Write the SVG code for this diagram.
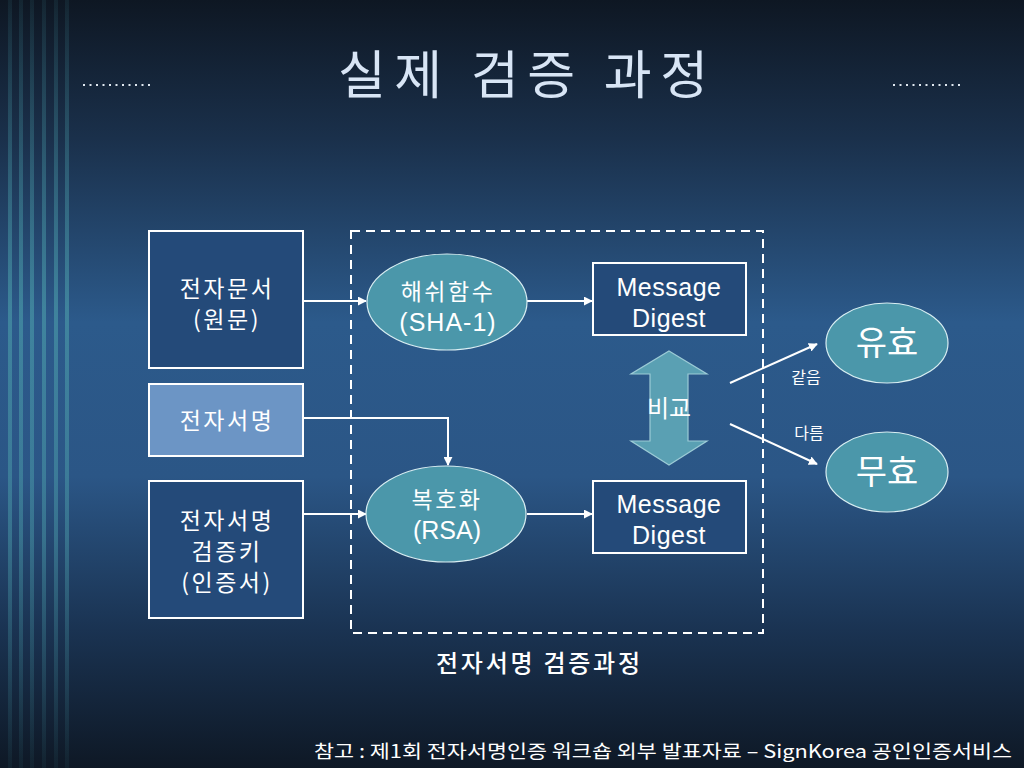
<svg xmlns="http://www.w3.org/2000/svg" width="1024" height="768" viewBox="0 0 1024 768">
<defs>
<linearGradient id="bg" x1="0" y1="0" x2="0" y2="1">
<stop offset="0" stop-color="#0e1723"/>
<stop offset="0.18" stop-color="#1a304b"/>
<stop offset="0.42" stop-color="#2c5a8b"/>
<stop offset="0.62" stop-color="#2b5686"/>
<stop offset="0.82" stop-color="#1a3352"/>
<stop offset="1" stop-color="#0e1825"/>
</linearGradient>
<linearGradient id="stripe" x1="0" y1="0" x2="0" y2="1">
<stop offset="0" stop-color="#3f8b98" stop-opacity="0.12"/>
<stop offset="0.4" stop-color="#4a9aa8" stop-opacity="0.65"/>
<stop offset="0.7" stop-color="#4a9aa8" stop-opacity="0.5"/>
<stop offset="1" stop-color="#3f8b98" stop-opacity="0.08"/>
</linearGradient>
<marker id="ah" viewBox="0 0 10 10" refX="9" refY="5" markerWidth="9" markerHeight="9" markerUnits="userSpaceOnUse" orient="auto">
<path d="M0,0 L10,5 L0,10 z" fill="#ffffff"/>
</marker>
<style>
.box{stroke:#ffffff;stroke-width:2}
.dark{fill:#244a79}
.light{fill:#6c95c5}
.ell{fill:#4b97aa;stroke:#d8eef2;stroke-width:1.2}
.t{font-family:"Liberation Sans","Noto Sans CJK KR",sans-serif;fill:#ffffff;text-anchor:middle}
.k{font-family:"Noto Sans CJK KR","Liberation Sans",sans-serif;fill:#ffffff;text-anchor:middle}
.bx{font-size:23px;letter-spacing:2.5px}
.conn line,.conn polyline{stroke:#ffffff;stroke-width:2;fill:none}
</style>
</defs>
<rect x="0" y="0" width="1024" height="768" fill="url(#bg)"/>
<g id="stripes" fill="url(#stripe)">
<rect x="8" y="0" width="4" height="768"/>
<rect x="19" y="0" width="4" height="768"/>
<rect x="30" y="0" width="4" height="768"/>
<rect x="42" y="0" width="4" height="768"/>
<rect x="54" y="0" width="4" height="768"/>
<rect x="65" y="0" width="4" height="768"/>
</g>
<g id="title">
<text x="523" y="94" class="k" font-size="52" style="fill:#d8e5f5" textLength="370" lengthAdjust="spacing">실제 검증 과정</text>
<line x1="83" y1="85" x2="150" y2="85" stroke="#e0e8f0" stroke-width="2" stroke-dasharray="2,4.5"/>
<line x1="893" y1="85" x2="960" y2="85" stroke="#e0e8f0" stroke-width="2" stroke-dasharray="2,4.5"/>
</g>
<g id="process-frame">
<rect x="351" y="231" width="412" height="402" fill="none" stroke="#ffffff" stroke-width="2" stroke-dasharray="9,6"/>
<text x="538" y="672" class="k" font-size="24" font-weight="500" textLength="204" lengthAdjust="spacing">전자서명 검증과정</text>
</g>
<g class="conn" id="connectors">
<line x1="304" y1="301" x2="366" y2="301" marker-end="url(#ah)"/>
<line x1="527" y1="301" x2="592" y2="301" marker-end="url(#ah)"/>
<polyline points="304,418 448,418 448,465" marker-end="url(#ah)"/>
<line x1="304" y1="514" x2="366" y2="514" marker-end="url(#ah)"/>
<line x1="527" y1="514" x2="592" y2="514" marker-end="url(#ah)"/>
<line x1="730" y1="383" x2="817" y2="344" marker-end="url(#ah)"/>
<line x1="730" y1="424" x2="817" y2="464" marker-end="url(#ah)"/>
<text x="806" y="383" class="k" font-size="16" style="stroke:none">같음</text>
<text x="809" y="439" class="k" font-size="16" style="stroke:none">다름</text>
</g>
<g id="doc">
<rect x="149" y="231" width="154" height="137" class="box dark"/>
<text x="227" y="297" class="k bx">전자문서</text>
<text x="227" y="328" class="k bx">(원문)</text>
</g>
<g id="sig">
<rect x="149" y="384" width="154" height="72" class="box light"/>
<text x="227" y="429" class="k bx">전자서명</text>
</g>
<g id="verkey">
<rect x="149" y="481" width="154" height="137" class="box dark"/>
<text x="227" y="529" class="k bx">전자서명</text>
<text x="227" y="560" class="k bx">검증키</text>
<text x="227" y="591" class="k bx">(인증서)</text>
</g>
<g id="hash">
<ellipse cx="447" cy="302" rx="80" ry="48" class="ell"/>
<text x="448" y="300" class="k bx">해쉬함수</text>
<text x="448" y="331" class="t" font-size="25" letter-spacing="1">(SHA-1)</text>
</g>
<g id="rsa">
<ellipse cx="446" cy="514" rx="80" ry="48" class="ell"/>
<text x="447" y="508" class="k bx">복호화</text>
<text x="447" y="539" class="t" font-size="25">(RSA)</text>
</g>
<g id="md1">
<rect x="593" y="263" width="153" height="72" class="box dark"/>
<text x="669" y="296" class="t" font-size="25" letter-spacing="0.5">Message</text>
<text x="669" y="327" class="t" font-size="25" letter-spacing="0.5">Digest</text>
</g>
<g id="md2">
<rect x="593" y="481" width="153" height="72" class="box dark"/>
<text x="669" y="513" class="t" font-size="25" letter-spacing="0.5">Message</text>
<text x="669" y="544" class="t" font-size="25" letter-spacing="0.5">Digest</text>
</g>
<g id="compare">
<path d="M669,351 L707,374 L688,374 L688,441 L707,441 L669,465 L631,441 L650,441 L650,374 L631,374 Z" fill="#5aa0b3" stroke="#9ccbd6" stroke-width="1.2"/>
<text x="669" y="417" class="k" font-size="24">비교</text>
</g>
<g id="valid">
<ellipse cx="887" cy="343" rx="61" ry="40" class="ell"/>
<text x="887" y="355" class="k" font-size="34">유효</text>
</g>
<g id="invalid">
<ellipse cx="887" cy="472" rx="61" ry="40" class="ell"/>
<text x="887" y="484" class="k" font-size="34">무효</text>
</g>
<g id="footer">
<text x="1012" y="758" class="k" font-size="18" style="text-anchor:end" textLength="698" lengthAdjust="spacingAndGlyphs">참고 : 제1회 전자서명인증 워크숍 외부 발표자료 – SignKorea 공인인증서비스</text>
</g>
</svg>
